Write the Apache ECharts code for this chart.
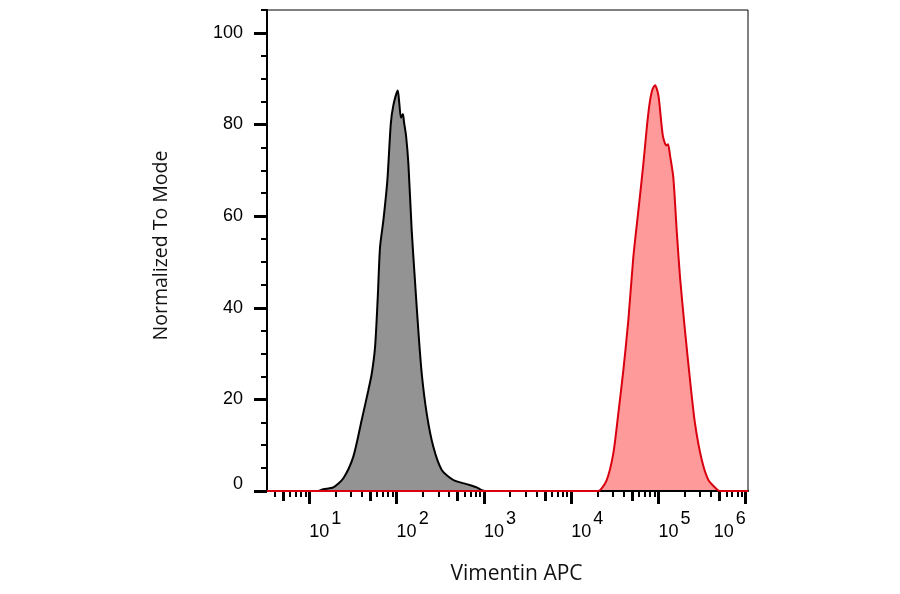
<!DOCTYPE html>
<html lang="en">
<head>
<meta charset="utf-8">
<title>Vimentin APC</title>
<style>
  html, body { margin: 0; padding: 0; background: #fff; }
  #main { width: 900px; height: 594px; }
</style>
</head>
<body>
<div id="main"></div>
<script src="https://cdn.jsdelivr.net/npm/echarts@6/dist/echarts.min.js"></script>
<script type="text/javascript">
// x is log10 of the APC intensity, y is count normalized to mode
var isoLog   = [0.515, 1.10, 1.16, 1.275, 1.39, 1.504, 1.60, 1.676, 1.715, 1.753, 1.784, 1.81, 1.848, 1.894, 1.933, 1.962, 2.013, 2.03, 2.05, 2.072, 2.085, 2.108, 2.135, 2.173, 2.21, 2.249, 2.288, 2.345, 2.42, 2.517, 2.65, 2.80, 2.918, 2.975, 3.05, 6.026];
var isoCount = [0, 0, 0.4, 0.8, 2.8, 7.5, 15.5, 22, 25.6, 31.4, 42.3, 53.2, 59, 67.8, 80.1, 84.1, 87.4, 84.8, 81.5, 82.3, 80.5, 77.6, 71.4, 56.9, 46, 35, 25.6, 16.9, 9.7, 4.6, 2.4, 1.5, 0.8, 0.2, 0, 0];

var vimLog   = [0.515, 4.25, 4.311, 4.407, 4.483, 4.54, 4.598, 4.655, 4.712, 4.77, 4.827, 4.87, 4.90, 4.93, 4.961, 5.0, 5.05, 5.09, 5.11, 5.133, 5.17, 5.209, 5.247, 5.304, 5.362, 5.419, 5.496, 5.572, 5.668, 5.706, 6.026];
var vimCount = [0, 0, 0, 2.4, 8.2, 16.9, 26.4, 37.3, 51, 61.2, 71.4, 80.0, 84.8, 87.6, 88.6, 86.3, 77.6, 75.4, 75.7, 73.2, 68.5, 56.9, 46.7, 35, 24.2, 14.7, 6.8, 2.4, 0.4, 0, 0];

// axis ticks
var decades = [1, 2, 3, 4, 5, 6];
var midMult = [5];
var minorMult = [2, 3, 4, 6, 7, 8, 9];
var yLabels = [0, 20, 40, 60, 80, 100];
var yMinor = [5, 10, 15, 25, 30, 35, 45, 50, 55, 65, 70, 75, 85, 90, 95, 105];

var xMin = 0.515, xMax = 6.026;

function logTicks(mults) {
    var res = [];
    for (var d = 0; d < 6; d++) {
        mults.forEach(function (m) {
            var v = d + Math.log10(m);
            if (v > xMin && v < xMax) res.push(v);
        });
    }
    return res;
}

function pairs(xs, ys) {
    return xs.map(function (x, i) { return [x, ys[i]]; });
}

var font = 'Arial, "Liberation Sans", sans-serif';
var nameFont = '"Open Sans", sans-serif';

var myChart = echarts.init(document.getElementById('main'));

var option = {
    backgroundColor: '#fff',
    animation: false,
    grid: {
        left: 267, top: 10, right: 152, bottom: 103,
        show: true, borderColor: '#000', borderWidth: 1, backgroundColor: 'transparent'
    },
    xAxis: [
        {
            type: 'value', min: xMin, max: xMax, position: 'bottom',
            name: 'Vimentin APC', nameLocation: 'middle', nameGap: 73,
            nameTextStyle: { fontFamily: nameFont, fontSize: 21, color: '#111', padding: [0, 0, 0, 18] },
            splitLine: { show: false },
            axisLine: { show: true, onZero: false, lineStyle: { color: '#000', width: 2 } },
            axisTick: { show: true, customValues: decades, length: 13, lineStyle: { color: '#000', width: 3 } },
            axisLabel: {
                customValues: decades, margin: 26, align: 'left', alignMaxLabel: 'right',
                fontFamily: font, fontSize: 18, color: '#000',
                formatter: function (v) { return '{b|10}{s|' + Math.round(v) + '}'; },
                rich: {
                    b: { fontFamily: font, fontSize: 18, color: '#000', lineHeight: 18, padding: [13, 0, 0, 0] },
                    s: { fontFamily: font, fontSize: 18, color: '#000', lineHeight: 18, padding: [0, 0, 13, 2] }
                }
            }
        },
        {
            type: 'value', min: xMin, max: xMax, position: 'bottom',
            splitLine: { show: false }, axisLine: { show: false },
            axisTick: { show: true, customValues: logTicks(midMult), length: 10, lineStyle: { color: '#000', width: 3 } },
            axisLabel: { show: false }
        },
        {
            type: 'value', min: xMin, max: xMax, position: 'bottom',
            splitLine: { show: false }, axisLine: { show: false },
            axisTick: { show: true, customValues: logTicks(minorMult), length: 6, lineStyle: { color: '#000', width: 2 } },
            axisLabel: { show: false }
        }
    ],
    yAxis: [
        {
            type: 'value', min: 0, max: 105, position: 'left',
            name: 'Normalized To Mode', nameLocation: 'middle', nameGap: 96,
            nameTextStyle: { fontFamily: nameFont, fontSize: 19.5, color: '#111', padding: [0, 0, 0, 10] },
            splitLine: { show: false },
            axisLine: { show: true, onZero: false, lineStyle: { color: '#000', width: 2 } },
            axisTick: { show: true, customValues: yLabels, length: 13, lineStyle: { color: '#000', width: 3 } },
            axisLabel: {
                customValues: yLabels, margin: 24,
                fontFamily: font, fontSize: 18, color: '#000',
                formatter: function (v) { return v === 0 ? '{z|0}' : '' + v; },
                rich: {
                    z: { fontFamily: font, fontSize: 18, color: '#000', lineHeight: 18, padding: [0, 0, 14, 0] }
                }
            }
        },
        {
            type: 'value', min: 0, max: 105, position: 'left',
            splitLine: { show: false }, axisLine: { show: false },
            axisTick: { show: true, customValues: yMinor, length: 6, lineStyle: { color: '#000', width: 2 } },
            axisLabel: { show: false }
        }
    ],
    series: [
        {
            name: 'Isotype', type: 'line', xAxisIndex: 0, yAxisIndex: 0,
            data: pairs(isoLog, isoCount),
            smooth: 0.25, symbol: 'none',
            lineStyle: { color: '#000', width: 2 },
            areaStyle: { color: '#939393', opacity: 1 }
        },
        {
            name: 'Vimentin', type: 'line', xAxisIndex: 0, yAxisIndex: 0,
            data: pairs(vimLog, vimCount),
            smooth: 0.25, symbol: 'none',
            lineStyle: { color: '#d9000f', width: 2 },
            areaStyle: { color: '#ff9a9a', opacity: 1 }
        }
    ]
};

myChart.setOption(option);
</script>
</body>
</html>
